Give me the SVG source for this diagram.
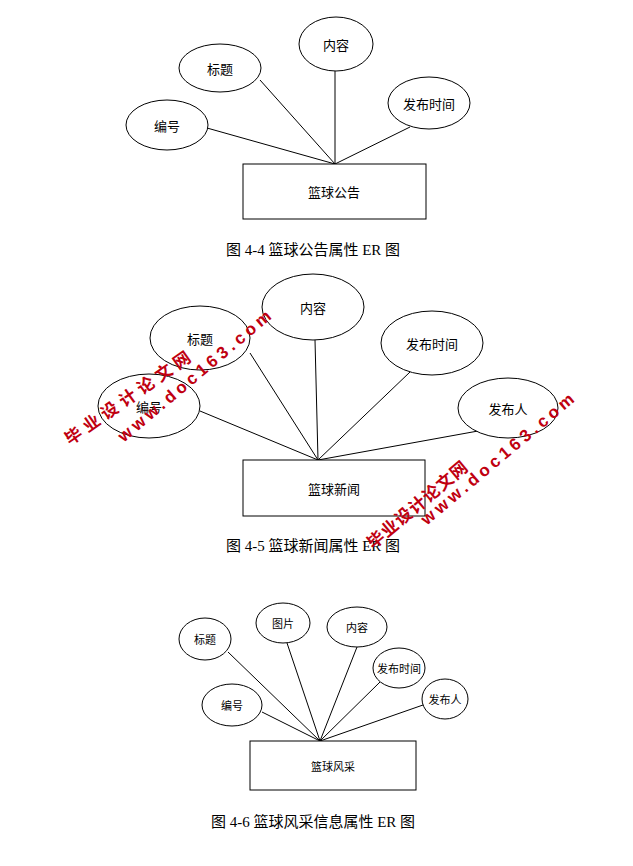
<svg xmlns="http://www.w3.org/2000/svg" width="633" height="866" viewBox="0 0 633 866">
<style>
.n ellipse,.n rect{fill:#fff;stroke:#000;stroke-width:1}
.l line{stroke:#000;stroke-width:1}
text{font-family:"Noto Sans CJK SC","Liberation Sans",sans-serif;fill:#000;text-anchor:middle;dominant-baseline:central}
.t{font-size:13px}
.s{font-size:11px}
.c{font-size:15px;font-family:"Liberation Serif","Noto Sans CJK SC",serif}
.w{fill:#c00010;font-weight:bold;font-size:17px;font-family:"Liberation Sans","Noto Sans CJK SC",sans-serif}
</style>
<rect width="633" height="866" fill="#fff"/>
<g class="l">
<line x1="207" y1="128" x2="335" y2="164"/><line x1="260" y1="80" x2="335" y2="164"/><line x1="335" y1="71" x2="335" y2="164"/><line x1="410" y1="127" x2="335" y2="164"/>
<line x1="200" y1="411" x2="318" y2="460"/><line x1="250" y1="353" x2="318" y2="460"/><line x1="315" y1="340" x2="318" y2="460"/><line x1="410" y1="372" x2="318" y2="460"/><line x1="478" y1="431" x2="318" y2="460"/>
<line x1="228" y1="652" x2="320" y2="741"/><line x1="287" y1="643" x2="320" y2="741"/><line x1="357" y1="647" x2="320" y2="741"/><line x1="380" y1="682" x2="320" y2="741"/><line x1="423" y1="705" x2="320" y2="741"/><line x1="262" y1="712" x2="320" y2="741"/>
</g>
<g id="d1" class="n">
<g id="e1"><rect x="243" y="164" width="183" height="55"/><text x="334" y="191" class="t">篮球公告</text></g>
<g id="a1"><ellipse cx="167" cy="125" rx="41" ry="25"/><text x="167" y="125" class="t">编号</text></g>
<g id="a2"><ellipse cx="220" cy="68" rx="41" ry="24"/><text x="220" y="68" class="t">标题</text></g>
<g id="a3"><ellipse cx="336" cy="44" rx="37" ry="27"/><text x="336" y="44" class="t">内容</text></g>
<g id="a4"><ellipse cx="429" cy="103" rx="41" ry="26"/><text x="429" y="103" class="t">发布时间</text></g>
</g>
<text x="313" y="250" class="c">图 4-4 篮球公告属性 ER 图</text>
<g id="d2" class="n">
<g id="e2"><rect x="243" y="460" width="182" height="56"/><text x="334" y="488" class="t">篮球新闻</text></g>
<g id="b1"><ellipse cx="149" cy="406" rx="51" ry="32"/><text x="149" y="406" class="t">编号</text></g>
<g id="b2"><ellipse cx="200" cy="338" rx="50" ry="32"/><text x="200" y="338" class="t">标题</text></g>
<g id="b3"><ellipse cx="313" cy="307" rx="51" ry="33"/><text x="313" y="307" class="t">内容</text></g>
<g id="b4"><ellipse cx="432" cy="343" rx="51" ry="32"/><text x="432" y="343" class="t">发布时间</text></g>
<g id="b5"><ellipse cx="508" cy="408" rx="50" ry="30"/><text x="508" y="408" class="t">发布人</text></g>
</g>
<text x="313" y="546" class="c">图 4-5 篮球新闻属性 ER 图</text>
<g id="d3" class="n">
<g id="e3"><rect x="250" y="741" width="166" height="49"/><text x="333" y="766" class="s">篮球风采</text></g>
<g id="c1"><ellipse cx="232" cy="705" rx="30" ry="21"/><text x="232" y="705" class="s">编号</text></g>
<g id="c2"><ellipse cx="205" cy="639" rx="26" ry="21"/><text x="205" y="639" class="s">标题</text></g>
<g id="c3"><ellipse cx="283" cy="623" rx="27" ry="20"/><text x="283" y="623" class="s">图片</text></g>
<g id="c4"><ellipse cx="357" cy="627" rx="30" ry="20"/><text x="357" y="627" class="s">内容</text></g>
<g id="c5"><ellipse cx="399" cy="668" rx="26" ry="20"/><text x="399" y="668" class="s">发布时间</text></g>
<g id="c6"><ellipse cx="445" cy="699" rx="23" ry="20"/><text x="445" y="699" class="s">发布人</text></g>
</g>
<text x="313" y="822" class="c">图 4-6 篮球风采信息属性 ER 图</text>
<g id="watermarks">
<text class="w" transform="translate(130,397) rotate(-35)" letter-spacing="5">毕业设计论文网</text>
<text class="w" transform="translate(196,375) rotate(-40)" letter-spacing="4">www.doc163.com</text>
<text class="w" transform="translate(418,505) rotate(-40)" letter-spacing="1">毕业设计论文网</text>
<text class="w" transform="translate(499,458) rotate(-40)" letter-spacing="4">www.doc163.com</text>
</g>
</svg>
